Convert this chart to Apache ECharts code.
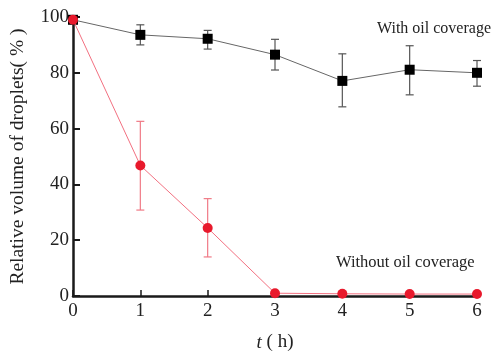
<!DOCTYPE html>
<html><head><meta charset="utf-8">
<script src="https://cdn.jsdelivr.net/npm/echarts@6/dist/echarts.min.js"></script>
<style>html,body{margin:0;padding:0;background:#fff}#c{width:499px;height:362px}</style>
</head><body><div id="c"></div>
<script>
const times = [0, 1, 2, 3, 4, 5, 6];
const withOil = [99, 93.6, 92.2, 86.5, 77.1, 81.1, 80.0];
const withOilLow = [99, 90, 88.5, 81, 67.8, 72.1, 75.2];
const withOilHigh = [99, 97.2, 95.2, 92, 86.8, 89.7, 84.4];
const withoutOil = [99, 46.8, 24.4, 1, 0.8, 0.7, 0.7];
const withoutOilLow = [99, 30.8, 14, 0.5, 0.3, 0.2, 0.2];
const withoutOilHigh = [99, 62.6, 34.9, 1.6, 1.4, 1.3, 1.3];
const yTicks = [0, 20, 40, 60, 80, 100];
const labelWith = 'With oil coverage';
const labelWithout = 'Without oil coverage';

const serif = '"Liberation Serif","DejaVu Serif",serif';
const chart = echarts.init(document.getElementById('c'));

function errSeries(low, high, color) {
  return {
    type: 'custom',
    z: 1,
    data: times.map((t, i) => [t, low[i], high[i]]),
    renderItem: function (params, api) {
      const x = api.value(0);
      const lo = api.coord([x, api.value(1)]);
      const hi = api.coord([x, api.value(2)]);
      const w = 4;
      const st = { stroke: color, lineWidth: 1.2 };
      return {
        type: 'group',
        children: [
          { type: 'line', shape: { x1: lo[0], y1: lo[1], x2: hi[0], y2: hi[1] }, style: st },
          { type: 'line', shape: { x1: lo[0] - w, y1: lo[1], x2: lo[0] + w, y2: lo[1] }, style: st },
          { type: 'line', shape: { x1: hi[0] - w, y1: hi[1], x2: hi[0] + w, y2: hi[1] }, style: st }
        ]
      };
    }
  };
}

chart.setOption({
  animation: false,
  grid: { left: 73, right: 22, top: 17, bottom: 66, containLabel: false, outerBoundsMode: 'none' },
  xAxis: {
    type: 'value', min: 0, max: 6, interval: 1,
    name: '{i|t} ( h)', nameLocation: 'middle', nameGap: 37,
    nameTextStyle: { fontFamily: serif, fontSize: 19, color: '#222', rich: { i: { fontFamily: serif, fontStyle: 'italic', fontSize: 19, color: '#222' } } },
    axisLine: { show: true, lineStyle: { color: '#1a1a1a', width: 2.5 } },
    axisTick: { show: true, inside: true, length: 6, lineStyle: { color: '#1a1a1a', width: 1.5 } },
    axisLabel: { fontFamily: serif, fontSize: 19, color: '#222', margin: 6 },
    splitLine: { show: false }
  },
  yAxis: {
    type: 'value', min: 0, max: 100, interval: 20,
    name: 'Relative volume of droplets( % )', nameLocation: 'middle', nameGap: 45, nameRotate: 90,
    nameTextStyle: { fontFamily: serif, fontSize: 19.5, color: '#222' },
    axisLine: { show: true, lineStyle: { color: '#1a1a1a', width: 2.5 } },
    axisTick: { show: true, inside: true, length: 7, lineStyle: { color: '#1a1a1a', width: 2 } },
    axisLabel: { fontFamily: serif, fontSize: 19, color: '#222', margin: 4,
      formatter: v => yTicks.includes(v) ? String(v) : '' },
    splitLine: { show: false }
  },
  graphic: [
    { type: 'text', left: 377, top: 21, style: { text: labelWith, font: '16px ' + serif, fill: '#222' } },
    { type: 'text', left: 336, top: 254, style: { text: labelWithout, font: '16.5px ' + serif, fill: '#222' } }
  ],
  series: [
    errSeries(withOilLow, withOilHigh, '#555'),
    errSeries(withoutOilLow, withoutOilHigh, '#f07a86'),
    {
      type: 'line', z: 3,
      data: times.map((t, i) => [t, withOil[i]]),
      symbol: 'rect', symbolSize: 10,
      itemStyle: { color: '#000' },
      lineStyle: { color: '#666', width: 1 }
    },
    {
      type: 'line', z: 4,
      data: times.map((t, i) => [t, withoutOil[i]]),
      symbol: 'circle', symbolSize: 10,
      itemStyle: { color: '#e8192c' },
      lineStyle: { color: '#f27080', width: 1 }
    }
  ]
});
</script></body></html>
